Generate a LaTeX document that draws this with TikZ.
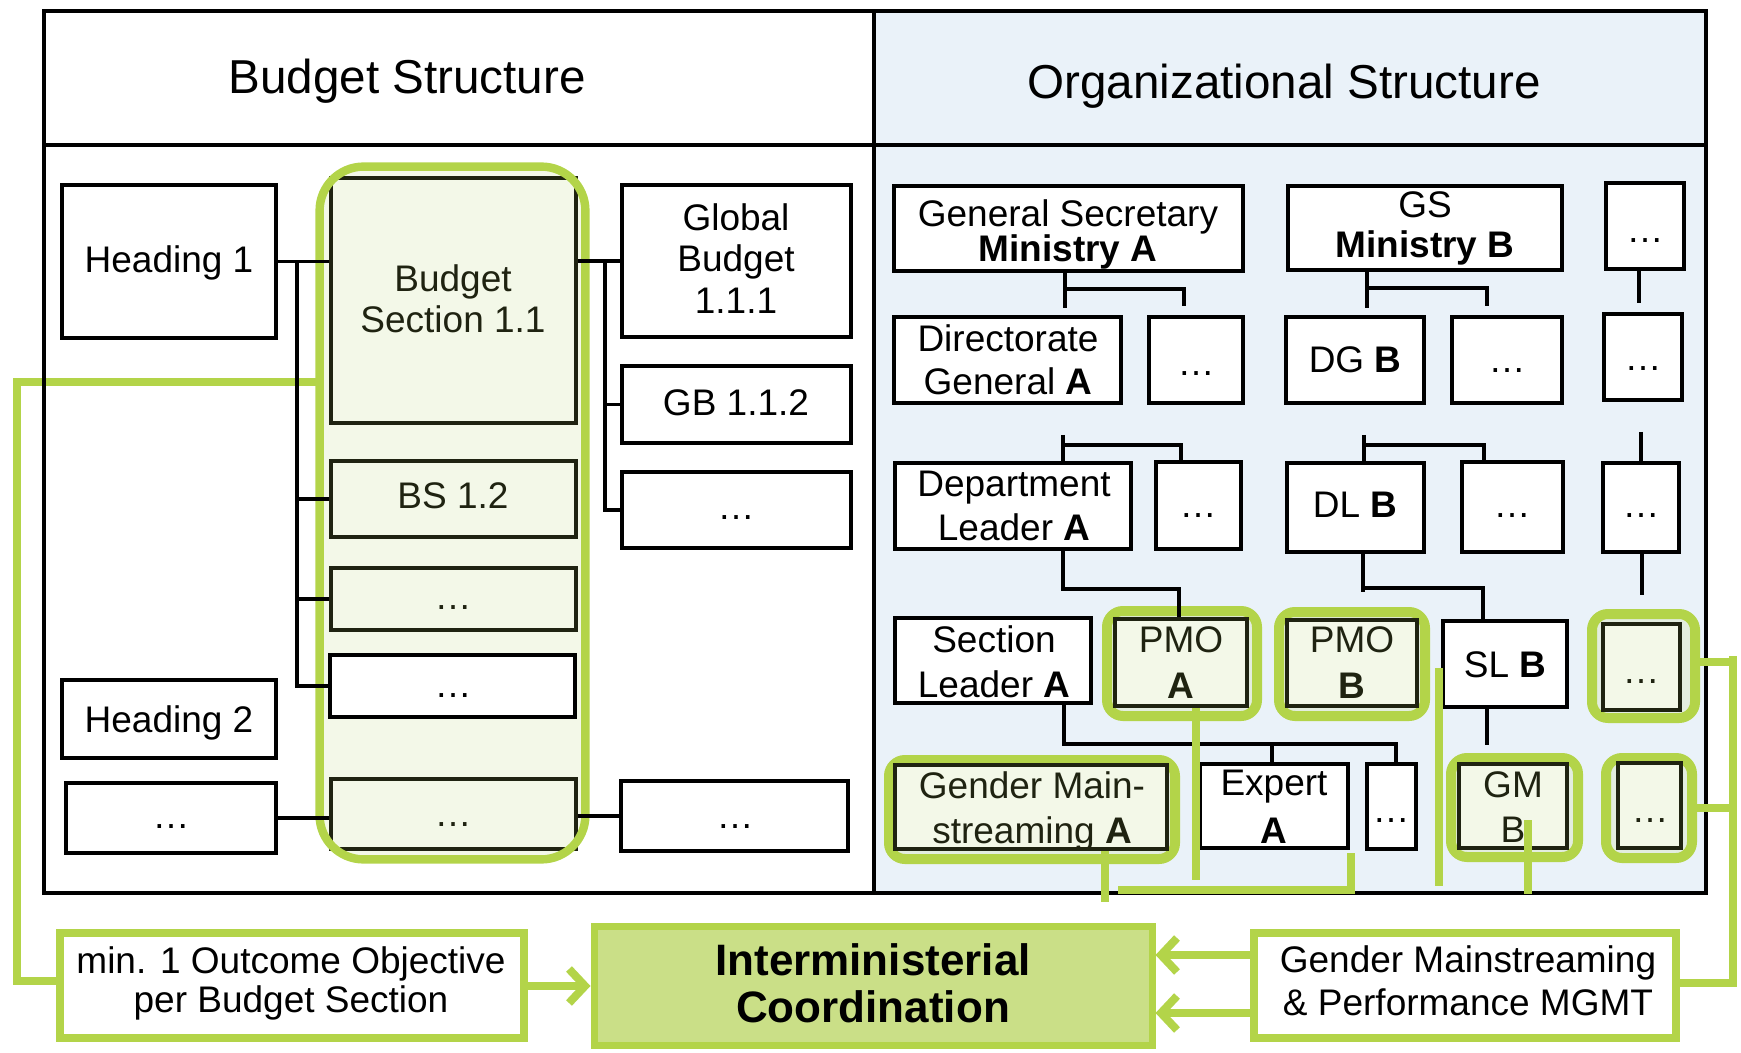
\documentclass[tikz,border=0pt]{standalone}
\usepackage{fontspec}
\setmainfont{Liberation Sans}
\usetikzlibrary{fit,arrows.meta}
\definecolor{gr}{HTML}{B3D449}
\definecolor{lgr}{HTML}{F3F8E8}
\definecolor{halo}{HTML}{E3EDDF}
\definecolor{olv}{HTML}{1F2311}
\definecolor{blu}{HTML}{EAF2F9}
\definecolor{icf}{HTML}{CADF87}
\tikzset{
  frm/.style={draw=black, line width=2pt, inner sep=0pt},
  wbox/.style={draw=black, line width=2pt, fill=white, inner sep=0pt},
  gbox/.style={draw=olv, line width=2pt, fill=lgr, inner sep=0pt},
  halobox/.style={draw=gr, line width=5pt, fill=halo, inner sep=0pt, rounded corners=8pt},
  bbox/.style={draw=gr, line width=4.3pt, fill=white, inner sep=0pt},
  icbox/.style={draw=gr, line width=3.5pt, fill=icf, inner sep=0pt},
  txt/.style={font=\fontsize{18.5}{20}\selectfont, inner sep=0pt, anchor=base},
  gtxt/.style={txt, text=olv},
  ttl/.style={txt, font=\fontsize{23.8}{26}\selectfont},
  ictxt/.style={txt, font=\fontsize{22}{24}\selectfont\bfseries},
  conn/.style={line width=1.8pt, draw=black},
  gconn/.style={line width=4pt, draw=gr},
  garr/.style={gconn, -{Straight Barb[length=8pt,width=17pt,line width=4pt]}},
}
\newcommand\mybx[6]{\node[#6, fit={(#2,#3) (#4,#5)}] (#1) {};}
\newcommand\mytx[5][txt]{\node[#1] (#2) at (#3,#4) {#5};}
\begin{document}
\begin{tikzpicture}[x=0.5pt,y=-0.5pt]
\useasboundingbox (0,0) rectangle (1741,1053);
% background and frame
\mybx{orgbg}{874}{11}{1706}{893}{fill=blu, inner sep=0pt}
\mybx{bscol}{320}{167}{585}{859}{fill=lgr, rounded corners=22pt, inner sep=0pt}
\draw[gconn] (bscol.west |- 0,382) -- (17,382) |- (60,981);
\mybx{frame}{44}{11}{1706}{893}{frm}
\draw[line width=2pt] (frame.west |- 0,145) -- (frame.east |- 0,145);
\draw[line width=2pt] (orgbg.north west) -- (orgbg.south west);
\mytx[ttl]{tl}{407}{94}{Budget Structure}
\mytx[ttl]{tr}{1284}{99}{Organizational Structure}

% ---------- Budget structure ----------
\mybx{h1}{62}{185}{276}{338}{wbox}
\mybx{bs11}{331}{178}{576}{423}{gbox}
\mybx{bs12}{331}{461}{576}{537}{gbox}
\mybx{bs13}{331}{568}{576}{630}{gbox}
\mybx{bs14}{330}{655}{575}{717}{wbox}
\mybx{bs2}{331}{779}{576}{849}{gbox}
\mybx{h2}{62}{680}{276}{758}{wbox}
\mybx{h3}{66}{783}{276}{853}{wbox}
\mybx{gb1}{622}{185}{851}{337}{wbox}
\mybx{gb2}{622}{366}{851}{443}{wbox}
\mybx{gb3}{622}{472}{851}{548}{wbox}
\mybx{gb4}{621}{781}{848}{851}{wbox}
\draw[gr, line width=4.2pt, rounded corners=22pt] (bscol.north west) rectangle (bscol.south east);

\draw[conn] (h1.east) -- (bs11.west |- h1.east);
\draw[conn] (297,0 |- h1.east) |- (bs14.west);
\draw[conn] (297,0 |- bs12.west) -- (bs12.west);
\draw[conn] (297,0 |- bs13.west) -- (bs13.west);
\draw[conn] (bs11.east |- gb1.west) -- (gb1.west);
\draw[conn] (605,0 |- gb1.west) |- (gb3.west);
\draw[conn] (605,0 |- gb2.west) -- (gb2.west);
\draw[conn] (h3.east) -- (bs2.west |- h3.east);
\draw[conn] (bs2.east |- gb4.west) -- (gb4.west);

\mytx{h1t}{169}{273}{Heading 1}
\mytx[gtxt]{bs11a}{453}{292}{Budget}
\mytx[gtxt]{bs11b}{453}{333}{Section 1.1}
\mytx[gtxt]{bs12t}{453}{509}{BS 1.2}
\mytx[gtxt]{bs13t}{453}{610}{\ldots}
\mytx{bs14t}{453}{697}{\ldots}
\mytx[gtxt]{bs2t}{453}{826}{\ldots}
\mytx{h2t}{169}{732}{Heading 2}
\mytx{h3t}{171}{828}{\ldots}
\mytx{gb1a}{736}{231}{Global}
\mytx{gb1b}{736}{272}{Budget}
\mytx{gb1c}{736}{314}{1.1.1}
\mytx{gb2t}{736}{416}{GB 1.1.2}
\mytx{gb3t}{736}{520}{\ldots}
\mytx{gb4t}{735}{828}{\ldots}

% ---------- Organizational structure ----------
\mybx{gsa}{894}{186}{1243}{271}{wbox}
\mybx{dga}{894}{317}{1121}{403}{wbox}
\mybx{dga2}{1149}{317}{1243}{403}{wbox}
\mybx{gsb}{1288}{186}{1562}{270}{wbox}
\mybx{dgb}{1286}{317}{1424}{403}{wbox}
\mybx{dgb2}{1452}{317}{1562}{403}{wbox}
\mybx{gsc}{1606}{183}{1684}{269}{wbox}
\mybx{dgc}{1604}{314}{1682}{400}{wbox}
\mybx{dla}{895}{463}{1131}{549}{wbox}
\mybx{dla2}{1156}{462}{1241}{549}{wbox}
\mybx{dlb}{1287}{463}{1424}{552}{wbox}
\mybx{dlb2}{1462}{462}{1563}{552}{wbox}
\mybx{dlc}{1603}{463}{1679}{552}{wbox}
\mybx{sla}{895}{618}{1091}{703}{wbox}
\mybx{hpa}{1107}{611}{1257}{716}{halobox}
\mybx{hpb}{1279}{612}{1425}{716}{halobox}
\mybx{hslc}{1592}{614}{1695}{718}{halobox}
\mybx{hgma}{889}{760}{1175}{859}{halobox}
\mybx{hgmb}{1451}{758}{1578}{857}{halobox}
\mybx{hgmc}{1606}{758}{1692}{858}{halobox}
\mybx{pmoa}{1115}{619}{1247}{706}{gbox}
\mybx{pmob}{1287}{620}{1417}{706}{gbox}
\mybx{slb}{1443}{621}{1567}{707}{wbox}
\mybx{slc}{1603}{624}{1680}{710}{gbox}
\mybx{gma}{895}{765}{1167}{849}{gbox}
\mybx{expa}{1200}{764}{1348}{848}{wbox}
\mybx{exp2}{1367}{764}{1416}{849}{wbox}
\mybx{gmb}{1459}{764}{1567}{848}{gbox}
\mybx{gmc}{1618}{763}{1681}{848}{gbox}

\draw[conn] (1065,0 |- gsa.south) -- (1065,308);
\draw[conn] (1065,289) -| (1184,306);
\draw[conn] (1367,0 |- gsb.south) -- (1367,308);
\draw[conn] (1367,288) -| (1487,306);
\draw[conn] (1639,0 |- gsc.south) -- (1639,303);
\draw[conn] (1063,435) -- (1063,0 |- dla.north);
\draw[conn] (1063,445) -| (1181,0 |- dla2.north);
\draw[conn] (1364,435) -- (1364,0 |- dlb.north);
\draw[conn] (1364,445) -| (1484,0 |- dlb2.north);
\draw[conn] (1641,432) -- (1641,0 |- dlc.north);
\draw[conn] (1063,0 |- dla.south) |- (1179,589) -- (1179,0 |- pmoa.north);
\draw[conn] (1363,0 |- dlb.south) -- (1363,592);
\draw[conn] (1363,588) -| (1483,0 |- slb.north);
\draw[conn] (1642,0 |- dlc.south) -- (1642,595);
\draw[conn] (1064,0 |- sla.south) |- (1396,744) -- (1396,0 |- exp2.north);
\draw[conn] (1272,744) -- (1272,0 |- expa.north);
\draw[conn] (1487,0 |- slb.south) -- (1487,745);

\mytx{gsa1}{1068}{227}{General Secretary}
\mytx{gsa2}{1068}{262}{\textbf{Ministry A}}
\mytx{dga1}{1008}{352}{Directorate}
\mytx{dga2t}{1008}{395}{General \textbf{A}}
\mytx{dga2d}{1196}{376}{\ldots}
\mytx{gsb1}{1425}{218}{GS}
\mytx{gsb2}{1425}{258}{\textbf{Ministry B}}
\mytx{gsct}{1645}{243}{\ldots}
\mytx{dgbt}{1355}{373}{DG \textbf{B}}
\mytx{dgb2t}{1507}{373}{\ldots}
\mytx{dgct}{1643}{371}{\ldots}
\mytx{dla1}{1014}{497}{Department}
\mytx{dla2t}{1014}{540}{Leader \textbf{A}}
\mytx{dla2d}{1198}{518}{\ldots}
\mytx{dlbt}{1355}{518}{DL \textbf{B}}
\mytx{dlb2t}{1512}{518}{\ldots}
\mytx{dlct}{1641}{518}{\ldots}
\mytx{sla1}{994}{652}{Section}
\mytx{sla2}{994}{697}{Leader \textbf{A}}
\mytx[gtxt]{pmoa1}{1181}{653}{PMO}
\mytx[gtxt]{pmoa2}{1181}{698}{\textbf{A}}
\mytx[gtxt]{pmob1}{1352}{653}{PMO}
\mytx[gtxt]{pmob2}{1352}{698}{\textbf{B}}
\mytx{slbt}{1505}{677}{SL \textbf{B}}
\mytx[gtxt]{slct}{1641}{683}{\ldots}
\mytx[gtxt]{gma1}{1032}{798}{Gender Main-}
\mytx[gtxt]{gma2}{1032}{843}{streaming \textbf{A}}
\mytx{expa1}{1274}{795}{Expert}
\mytx{expa2}{1274}{843}{\textbf{A}}
\mytx{exp2t}{1391}{822}{\ldots}
\mytx[gtxt]{gmb1}{1513}{797}{GM}
\mytx[gtxt]{gmb2}{1513}{842}{B}
\mytx[gtxt]{gmct}{1650}{822}{\ldots}

% ---------- bottom row ----------
\mybx{minb}{60}{933}{524}{1038}{bbox}
\mybx{ic}{594}{926}{1152}{1045}{icbox}
\mybx{gmp}{1254}{933}{1676}{1038}{bbox}
\mytx{minb1}{291}{973}{min. 1 Outcome Objective}
\mytx{minb2}{291}{1012}{per Budget Section}
\mytx[ictxt]{ic1}{873}{975}{Interministerial}
\mytx[ictxt]{ic2}{873}{1022}{Coordination}
\mytx{gmp1}{1468}{972}{Gender Mainstreaming}
\mytx{gmp2}{1468}{1015}{\& Performance MGMT}

% ---------- green links ----------
\draw[garr] (minb.east |- 0,986) -- (ic.west |- 0,986);
\draw[garr] (gmp.west |- 0,955) -- (ic.east |- 0,955);
\draw[garr] (gmp.west |- 0,1013) -- (ic.east |- 0,1013);
\draw[gconn] (gmp.east |- 0,983) -- (1733,983) -- (1733,656);
\draw[gconn] (hslc.east |- 0,662) -- (1737,662);
\draw[gconn] (hgmc.east |- 0,808) -- (1737,808);
\draw[gconn] (1105,0 |- gma.south) -- (1105,902);
\draw[gconn] (1196,0 |- pmoa.south) -- (1196,880);
\draw[gconn] (1118,890) -- (1351,890) -- (1351,853);
\draw[gconn] (1439,668) -- (1439,886);
\draw[gconn] (1528,820) -- (1528,894);
\end{tikzpicture}
\end{document}
